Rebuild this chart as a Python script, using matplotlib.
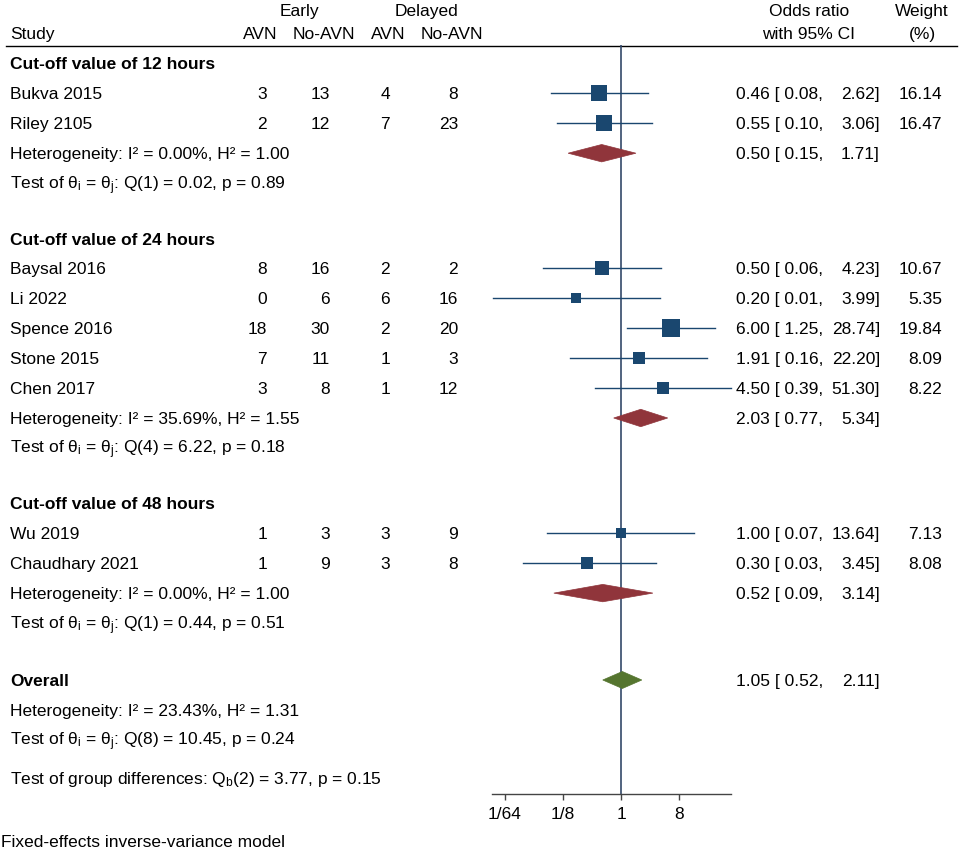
import matplotlib
matplotlib.use("Agg")
import matplotlib.pyplot as plt
from matplotlib.patches import Polygon
import numpy as np

plt.rcParams['font.family'] = ['Liberation Sans', 'DejaVu Sans']
plt.rcParams['mathtext.fontset'] = 'custom'
plt.rcParams['mathtext.rm'] = 'Liberation Sans'
plt.rcParams['mathtext.it'] = 'Liberation Sans'
plt.rcParams['mathtext.bf'] = 'Liberation Sans:bold'

# ---------------- data ----------------
groups = ["Cut-off value of 12 hours", "Cut-off value of 24 hours", "Cut-off value of 48 hours"]
studies = [
    ["Bukva 2015", "Riley 2105"],
    ["Baysal 2016", "Li 2022", "Spence 2016", "Stone 2015", "Chen 2017"],
    ["Wu 2019", "Chaudhary 2021"],
]
early_avn = [[3, 2], [8, 0, 18, 7, 3], [1, 1]]
early_no = [[13, 12], [16, 6, 30, 11, 8], [3, 9]]
delayed_avn = [[4, 7], [2, 6, 2, 1, 1], [3, 3]]
delayed_no = [[8, 23], [2, 16, 20, 3, 12], [9, 8]]
or_est = [[0.46, 0.55], [0.50, 0.20, 6.00, 1.91, 4.50], [1.00, 0.30]]
or_lo = [[0.08, 0.10], [0.06, 0.01, 1.25, 0.16, 0.39], [0.07, 0.03]]
or_hi = [[2.62, 3.06], [4.23, 3.99, 28.74, 22.20, 51.30], [13.64, 3.45]]
weights = [[16.14, 16.47], [10.67, 5.35, 19.84, 8.09, 8.22], [7.13, 8.08]]
grp_est = [0.50, 2.03, 0.52]
grp_lo = [0.15, 0.77, 0.09]
grp_hi = [1.71, 5.34, 3.14]
grp_het = ["I² = 0.00%, H² = 1.00", "I² = 35.69%, H² = 1.55", "I² = 0.00%, H² = 1.00"]
grp_q = ["Q(1) = 0.02, p = 0.89", "Q(4) = 6.22, p = 0.18", "Q(1) = 0.44, p = 0.51"]
overall_est, overall_lo, overall_hi = 1.05, 0.52, 2.11
overall_het = "I² = 23.43%, H² = 1.31"
overall_q = "Q(8) = 10.45, p = 0.24"
group_diff = "(2) = 3.77, p = 0.15"
tick_vals = [1/64, 1/8, 1, 8]
tick_labels = ["1/64", "1/8", "1", "8"]

# ---------------- colours / style ----------------
NAVY = "#1a476f"
MAROON = "#90353b"
GREEN = "#55752f"
FS = 12.5
BASE = 5.9  # baseline offset (px) below row centre

W, H = 959, 850
fig = plt.figure(figsize=(W / 100, H / 100), dpi=100)
bg = fig.add_axes([0, 0, 1, 1])
bg.set_xlim(0, W)
bg.set_ylim(H, 0)
bg.axis("off")


def txt(x, y, s, ha="left", bold=False):
    bg.text(x, y + BASE, s, fontsize=FS, ha=ha, va="baseline",
            fontweight="bold" if bold else "normal")


# forest axes (pixel rows on y, log2 OR on x)
x_left_px, x_right_px, x_one_px, px_per_log2 = 492, 731, 621, 19.33
top_px, axis_px = 45, 794
fa = fig.add_axes([x_left_px / W, 1 - axis_px / H, (x_right_px - x_left_px) / W, (axis_px - top_px) / H])
fa.set_xscale("log", base=2)
fa.set_xlim(2 ** ((x_left_px - x_one_px) / px_per_log2), 2 ** ((x_right_px - x_one_px) / px_per_log2))
fa.set_ylim(axis_px, top_px)
fa.patch.set_alpha(0)
for s in ["top", "right", "left"]:
    fa.spines[s].set_visible(False)
fa.spines["bottom"].set_color("#444444")
fa.spines["bottom"].set_linewidth(1.0)
fa.set_yticks([])
fa.set_xticks(tick_vals)
fa.set_xticklabels(tick_labels, fontsize=FS)
fa.minorticks_off()
fa.tick_params(axis="x", direction="out", length=4.5, width=1.0, color="#444444", pad=5)
fa.axvline(1, color="#34496a", lw=1.2, zorder=1)

# column x positions (px)
X_STUDY = 10
X_C1, X_C2, X_C3, X_C4 = 267, 330, 390, 458
X_EST = 736
X_HI = 880
X_W = 942

# header
txt(299, 10, "Early", ha="center")
txt(427, 10, "Delayed", ha="center")
txt(X_STUDY, 33, "Study")
for xr, lab in zip([277, 355, 405, 483], ["AVN", "No-AVN", "AVN", "No-AVN"]):
    txt(xr, 33, lab, ha="right")
txt(809, 10, "Odds ratio", ha="center")
txt(809, 33, "with 95% CI", ha="center")
txt(922, 10, "Weight", ha="center")
txt(922, 33, "(%)", ha="center")
bg.plot([6, 957], [45.5, 45.5], color="black", lw=1.0)

STEP = 29.9
GAP = 55.5


def ci_text(y, est, lo, hi):
    txt(X_EST, y, f"{est:.2f} [ {lo:.2f},")
    txt(X_HI, y, f"{hi:.2f}]", ha="right")


def theta_text(q):
    return r"Test of θ$_\mathrm{i}$ = θ$_\mathrm{j}$: " + q


y = 63.5
for g in range(len(groups)):
    txt(X_STUDY, y, groups[g], bold=True)
    for i, name in enumerate(studies[g]):
        y += STEP
        txt(X_STUDY, y, name)
        for xc, vals in zip([X_C1, X_C2, X_C3, X_C4], [early_avn, early_no, delayed_avn, delayed_no]):
            txt(xc, y, str(vals[g][i]), ha="right")
        ci_text(y, or_est[g][i], or_lo[g][i], or_hi[g][i])
        txt(X_W, y, f"{weights[g][i]:.2f}", ha="right")
        fa.plot([or_lo[g][i], or_hi[g][i]], [y, y], color=NAVY, lw=1.0, zorder=2, clip_on=False)
        side_px = 4.1 * np.sqrt(weights[g][i])
        fa.plot([or_est[g][i]], [y], marker="s", ms=side_px * 0.72, color=NAVY, mew=0, zorder=3, clip_on=False)
    y += STEP
    txt(X_STUDY, y, "Heterogeneity: " + grp_het[g])
    ci_text(y, grp_est[g], grp_lo[g], grp_hi[g])
    hh = 8.7
    fa.add_patch(Polygon([[grp_lo[g], y], [grp_est[g], y - hh], [grp_hi[g], y], [grp_est[g], y + hh]],
                         closed=True, facecolor=MAROON, edgecolor=MAROON, lw=0.5, zorder=3))
    y += STEP
    txt(X_STUDY, y, theta_text(grp_q[g]))
    y += GAP

# overall
y += 1.5
txt(X_STUDY, y, "Overall", bold=True)
ci_text(y, overall_est, overall_lo, overall_hi)
hh = 8.5
fa.add_patch(Polygon([[overall_lo, y], [overall_est, y - hh], [overall_hi, y], [overall_est, y + hh]],
                     closed=True, facecolor=GREEN, edgecolor=GREEN, lw=0.5, zorder=3))
y += STEP
txt(X_STUDY, y, "Heterogeneity: " + overall_het)
y += STEP
txt(X_STUDY, y, theta_text(overall_q))
y += 38
txt(X_STUDY, y, r"Test of group differences: Q$_\mathrm{b}$" + group_diff)

txt(1, 841, "Fixed-effects inverse-variance model")

fig.savefig("out.png", dpi=100)
